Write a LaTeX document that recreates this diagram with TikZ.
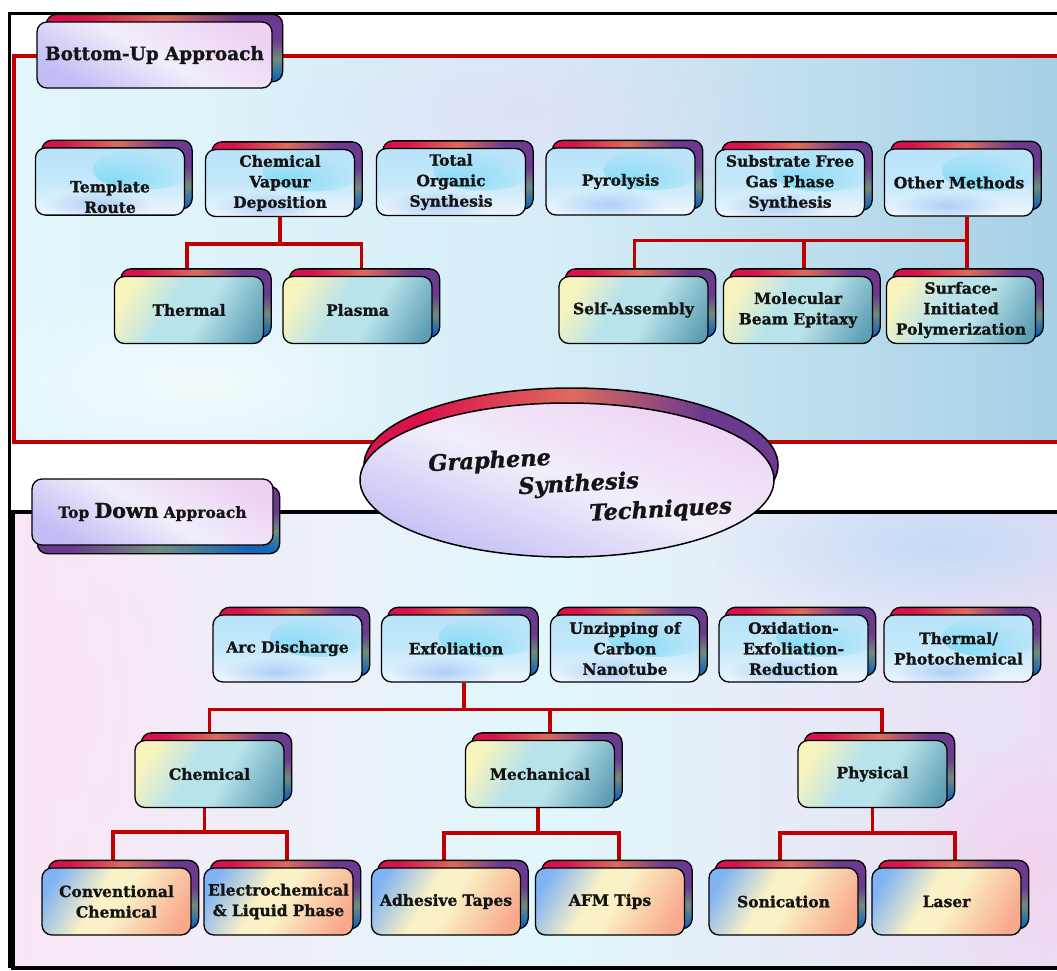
\documentclass[tikz,border=0pt]{standalone}
\usepackage{fontspec}
\setmainfont{DejaVu Serif}[BoldFeatures={FakeBold=1.2},BoldItalicFeatures={FakeBold=1.2}]
\usetikzlibrary{calc,shapes.geometric,fadings}

\definecolor{cRed}{HTML}{C00000}
\definecolor{sCrim}{HTML}{D8124C}
\definecolor{sCoral}{HTML}{DF6A5C}
\definecolor{sPurp}{HTML}{6B3A8E}
\definecolor{sBlue}{HTML}{1666B8}
\definecolor{sGreen}{HTML}{6F8C7E}
\definecolor{skyT}{HTML}{B8E3F9}
\definecolor{skyM}{HTML}{C4E8FA}
\definecolor{skyB}{HTML}{EEF6FD}
\definecolor{blobC}{HTML}{5BD3F4}
\definecolor{blobB}{HTML}{86B2F4}
\definecolor{tealT}{HTML}{F7F4BE}
\definecolor{tealM}{HTML}{B9E3EA}
\definecolor{tealB}{HTML}{5D9EB4}
\definecolor{peachT}{HTML}{80B3F2}
\definecolor{peachM}{HTML}{FAF1C6}
\definecolor{peachB}{HTML}{F8A98C}
\definecolor{lavT}{HTML}{EED2F4}
\definecolor{lavM}{HTML}{F1EEFA}
\definecolor{lavB}{HTML}{C2BDF5}
\definecolor{topL}{HTML}{E2F6FB}
\definecolor{topM}{HTML}{D6EEF7}
\definecolor{topR}{HTML}{A6CFE5}
\definecolor{topBlob}{HTML}{E3D8F8}
\definecolor{botL}{HTML}{FAE6F5}
\definecolor{botM}{HTML}{E1F7FB}
\definecolor{botR}{HTML}{EBDDF3}
\definecolor{botBlue}{HTML}{C6DBF6}
\definecolor{botPink}{HTML}{F3D3EE}

\pgfdeclarelayer{bg}
\pgfdeclarelayer{conn}
\pgfdeclarelayer{shd}
\pgfsetlayers{bg,conn,shd,main}

\tikzfading[name=fuzzy, inner color=transparent!0, outer color=transparent!100]

\pgfdeclarehorizontalshading{shadowH}{100bp}{color(0bp)=(sCrim); color(32bp)=(sCrim); color(50bp)=(sCoral); color(66bp)=(sPurp); color(100bp)=(sPurp)}
\pgfdeclarehorizontalshading{shadowTD}{100bp}{color(0bp)=(sPurp); color(32bp)=(sPurp); color(50bp)=(sGreen); color(68bp)=(sBlue); color(100bp)=(sBlue)}
\pgfdeclareverticalshading{stripV}{100bp}{color(0bp)=(sBlue); color(28bp)=(sBlue); color(42bp)=(sGreen); color(56bp)=(sPurp); color(100bp)=(sPurp)}
\pgfdeclarehorizontalshading{peachH}{100bp}{color(0bp)=(peachT); color(22bp)=(peachT); color(42bp)=(peachM); color(52bp)=(peachM); color(78bp)=(peachB); color(100bp)=(peachB)}
\pgfdeclarehorizontalshading{tealH}{100bp}{color(0bp)=(tealT); color(24bp)=(tealT); color(42bp)=(tealM); color(56bp)=(tealM); color(80bp)=(tealB); color(100bp)=(tealB)}

\newcommand\gshadow[3][{(7,-7)}]{%
  \begin{pgfonlayer}{shd}
    \coordinate (gsA) at ($(#2.south west)+#1$);
    \coordinate (gsB) at ($(#2.north east)+#1$);
    \begin{scope}
      \clip[rounded corners=10pt] (gsA) rectangle (gsB);
      \shade[shading=#3] (gsA) rectangle (gsB);
      \shade[shading=stripV] (gsB) rectangle ($(gsA -| #2.east)+(-3,0)$);
    \end{scope}
    \draw[line width=1.3pt, rounded corners=10pt] (gsA) rectangle (gsB);
  \end{pgfonlayer}}

\begin{document}
\begin{tikzpicture}[x=1pt,y=-1pt,
  gbox/.style={draw=black, line width=1.3pt, rounded corners=10pt,
    minimum width=149pt, minimum height=67pt, text width=145pt,
    align=center, inner sep=2pt, text=black!92,
    font=\bfseries\fontsize{15.5}{20.5}\selectfont},
  fsky/.style={gbox, top color=skyT, bottom color=skyB, middle color=skyM,
    path picture={
      \fill[blobC, fill opacity=0.6, path fading=fuzzy] ($(path picture bounding box.north east)+(-42,22)$) ellipse (50pt and 20pt);
      \fill[blobB, fill opacity=0.55, path fading=fuzzy] ($(path picture bounding box.south)+(-12,-10)$) ellipse (55pt and 15pt);}},
  fteal/.style={gbox, shading=tealH, shading angle=-30},
  fpeach/.style={gbox, shading=peachH, shading angle=-30},
  flav/.style={gbox, top color=lavT, bottom color=lavB, middle color=lavM, shading angle=-30},
  conn/.style={draw=cRed, line width=3.5pt, line join=miter},
  etext/.style={anchor=base, rotate=3, text=black!92, font=\bfseries\itshape\fontsize{22.5}{26}\selectfont}
]
\useasboundingbox (0,0) rectangle (1057,970);

% ---------- backgrounds and frames ----------
\begin{pgfonlayer}{bg}
  \fill[white] (0,0) rectangle (1057,970);
  \begin{scope}
    \clip (14,56) rectangle (1070,442);
    \shade[left color=topL, right color=topR, middle color=topM] (14,56) rectangle (1070,442);
    \fill[topBlob, fill opacity=0.6, path fading=fuzzy] (520,110) ellipse (300pt and 110pt);
    \fill[white, fill opacity=0.6, path fading=fuzzy] (200,380) ellipse (260pt and 110pt);
  \end{scope}
  \draw[cRed, line width=4pt] (14,56) rectangle (1075,442);
  \begin{scope}
    \clip (13,512) rectangle (1070,968);
    \shade[left color=botL, right color=botR, middle color=botM] (13,512) rectangle (1070,968);
    \fill[botBlue, path fading=fuzzy] (940,545) ellipse (230pt and 80pt);
    \fill[botPink, path fading=fuzzy] (1030,860) ellipse (130pt and 120pt);
    \fill[botL, path fading=fuzzy] (60,700) ellipse (140pt and 200pt);
  \end{scope}
  \draw[line width=4pt] (1075,512) -- (13,512) -- (13,968) -- (1075,968);
  \draw[line width=3pt] (1075,13) -- (9.5,13) -- (9.5,968);
\end{pgfonlayer}

% ---------- approach labels ----------
\node[flav, minimum width=235pt, text width=231pt, minimum height=66pt,
  font=\bfseries\fontsize{18.5}{22}\selectfont] (bu) at (154.5,55) {Bottom-Up Approach};
\gshadow[{(10,-7)}]{bu}{shadowH}
\node[flav, minimum width=241pt, text width=237pt, minimum height=66pt] (td) at (152.5,512)
  {\fontsize{15.5}{20}\selectfont Top \fontsize{20.5}{20}\selectfont Down \fontsize{15.5}{20}\selectfont Approach};
\gshadow[{(6,8)}]{td}{shadowTD}

% ---------- bottom-up boxes ----------
\node[fsky] (template) at (110,181.5) {\mbox{}\\[22pt]Template\\Route};
\node[fsky] (cvd) at (280,183) {Chemical\\Vapour\\Deposition};
\node[fsky] (tos) at (451,182) {Total\\Organic\\Synthesis};
\node[fsky] (pyro) at (620.5,181.5) {Pyrolysis};
\node[fsky] (sfg) at (790,183) {Substrate Free\\Gas Phase\\Synthesis};
\node[fsky] (other) at (959,182.5) {Other Methods};
\foreach \n in {template,cvd,tos,pyro,sfg,other} {\gshadow{\n}{shadowH}}

\node[fteal] (thermal) at (189,310) {Thermal};
\node[fteal] (plasma) at (357.5,310) {Plasma};
\node[fteal] (sa) at (633.5,310) {Self-Assembly};
\node[fteal] (mbe) at (798,310) {Molecular\\Beam Epitaxy};
\node[fteal] (sip) at (961,310) {Surface-\\Initiated\\Polymerization};
\foreach \n in {thermal,plasma,sa,mbe,sip} {\gshadow{\n}{shadowH}}

% ---------- top-down boxes ----------
\node[fsky] (arc) at (287.5,648.5) {Arc Discharge};
\node[fsky] (exf) at (456,648.5) {Exfoliation};
\node[fsky] (unz) at (625,648.5) {Unzipping of\\Carbon\\Nanotube};
\node[fsky] (ox) at (793.5,648.5) {Oxidation-\\Exfoliation-\\Reduction};
\node[fsky] (tp) at (958.5,648.5) {Thermal/\\Photochemical};
\foreach \n in {arc,exf,unz,ox,tp} {\gshadow{\n}{shadowH}}

\node[fteal] (chem) at (209.5,774) {Chemical};
\node[fteal] (mech) at (540,774) {Mechanical};
\node[fteal] (phys) at (872.5,774) {Physical};
\foreach \n in {chem,mech,phys} {\gshadow{\n}{shadowH}}

\node[fpeach] (conv) at (116.5,901.5) {Conventional\\Chemical};
\node[fpeach] (elec) at (278.5,901.5) {Electrochemical\\\& Liquid Phase};
\node[fpeach] (adh) at (446,901.5) {Adhesive Tapes};
\node[fpeach] (afm) at (610,901.5) {AFM Tips};
\node[fpeach] (son) at (783.5,901.5) {Sonication};
\node[fpeach] (laser) at (946.5,901.5) {Laser};
\foreach \n in {conv,elec,adh,afm,son,laser} {\gshadow{\n}{shadowH}}

% ---------- central ellipse ----------
\node[ellipse, draw=black, line width=1.5pt, minimum width=414pt, minimum height=154pt,
  inner sep=0pt, top color=lavT, bottom color=lavB, middle color=lavM, shading angle=-20] (gst) at (567,480) {};
\begin{pgfonlayer}{shd}
  \shade[shading=shadowH] ($(gst.center)+(4,-15)$) ellipse (207pt and 77pt);
  \draw[line width=1.5pt] ($(gst.center)+(4,-15)$) ellipse (207pt and 77pt);
\end{pgfonlayer}
\node[etext] (g1) at ($(gst.center)+(-77,-12)$) {Graphene};
\node[etext] (g2) at ($(gst.center)+(12,11)$) {Synthesis};
\node[etext] (g3) at ($(gst.center)+(94,37)$) {Techniques};

% ---------- connectors ----------
\begin{pgfonlayer}{conn}
  \draw[conn] (cvd.south) -- ++(0,27) coordinate (j1);
  \coordinate (a1) at ([xshift=-2pt]thermal.north);
  \coordinate (a2) at ([xshift=4pt]plasma.north);
  \draw[conn] (a1) |- (j1) -| (a2);

  \coordinate (o1) at ([xshift=8pt]other.south);
  \draw[conn] (o1) -- ++(0,24) coordinate (j2);
  \coordinate (a3) at ([xshift=1pt]sa.north);
  \coordinate (a4) at ([xshift=6pt]mbe.north);
  \coordinate (a5) at ([xshift=6pt]sip.north);
  \draw[conn] (a3) |- (j2) -| (a5);
  \draw[conn] (a4) -- (a4 |- j2);

  \coordinate (e1) at ([xshift=8pt]exf.south);
  \draw[conn] (e1) -- ++(0,27) coordinate (j3);
  \coordinate (b1) at (chem.north);
  \coordinate (b2) at ([xshift=10pt]mech.north);
  \coordinate (b3) at ([xshift=9.5pt]phys.north);
  \draw[conn] (b1) |- (j3) -- (j3 -| b3) -- (b3);
  \draw[conn] (b2) -- (b2 |- j3);

  \coordinate (c0) at ([xshift=-5pt]chem.south);
  \draw[conn] (c0) -- ++(0,24) coordinate (j4);
  \coordinate (c1) at ([xshift=-3.5pt]conv.north);
  \coordinate (c2) at ([xshift=8.5pt]elec.north);
  \draw[conn] (c1) |- (j4) -| (c2);

  \coordinate (m0) at ([xshift=-2pt]mech.south);
  \draw[conn] (m0) -- ++(0,25) coordinate (j5);
  \coordinate (d1) at ([xshift=-2pt]adh.north);
  \coordinate (d2) at ([xshift=9pt]afm.north);
  \draw[conn] (d1) |- (j5) -| (d2);

  \coordinate (p0) at (phys.south);
  \draw[conn] (p0) -- ++(0,25) coordinate (j6);
  \coordinate (f1) at ([xshift=-3.5pt]son.north);
  \coordinate (f2) at ([xshift=8.5pt]laser.north);
  \draw[conn] (f1) |- (j6) -| (f2);
\end{pgfonlayer}
\end{tikzpicture}
\end{document}
